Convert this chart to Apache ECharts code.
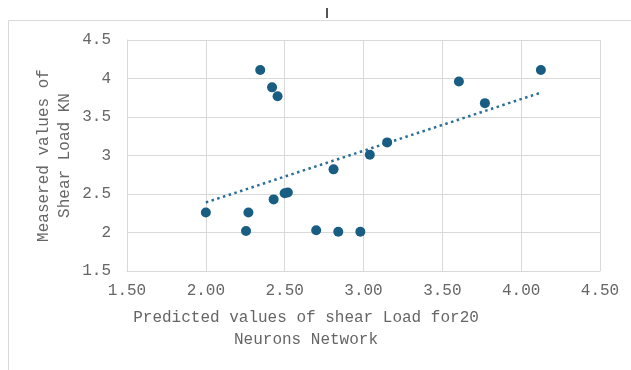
<!DOCTYPE html>
<html>
<head>
<meta charset="utf-8">
<script src="https://cdn.jsdelivr.net/npm/echarts@6/dist/echarts.min.js"></script>
<style>
  html, body { margin: 0; padding: 0; background: #fff; }
  #chart { width: 631px; height: 370px; }
</style>
</head>
<body>
<div id="chart"></div>
<script>
// predicted (x) vs measured (y) shear load
var predicted = [2.00, 2.255, 2.27, 2.43, 2.50, 2.52, 2.70, 2.84, 2.98, 2.81, 3.04, 3.15, 3.605, 3.77, 4.125, 2.345, 2.42, 2.455];
var measured  = [2.26, 2.02, 2.26, 2.43, 2.51, 2.52, 2.03, 2.01, 2.01, 2.82, 3.01, 3.17, 3.96, 3.68, 4.11, 4.11, 3.885, 3.77];

var xTitle = 'Predicted values of shear Load for20\nNeurons Network';
var yTitle = 'Measered values of\nShear Load KN';

var points = predicted.map(function (x, i) { return [x, measured[i]]; });

// linear trendline (least squares)
var n = predicted.length, mx = 0, my = 0;
for (var i = 0; i < n; i++) { mx += predicted[i]; my += measured[i]; }
mx /= n; my /= n;
var sxy = 0, sxx = 0;
for (var i = 0; i < n; i++) {
    sxy += (predicted[i] - mx) * (measured[i] - my);
    sxx += (predicted[i] - mx) * (predicted[i] - mx);
}
var slope = sxy / sxx, icpt = my - slope * mx;
var xMin = Math.min.apply(null, predicted), xMax = Math.max.apply(null, predicted);
var trend = [[xMin, icpt + slope * xMin], [xMax, icpt + slope * xMax]];

var fontFam = '"Liberation Mono", "Courier New", monospace';
var textCol = '#666666';
var gridCol = '#d9d9d9';
var dotCol = '#195e82';

var myChart = echarts.init(document.getElementById('chart'));
var option = {
    animation: false,
    backgroundColor: '#fff',
    title: {
        text: xTitle,
        left: 301,
        top: 302,
        textAlign: 'center',
        textStyle: {
            fontFamily: fontFam,
            fontSize: 16,
            fontWeight: 'normal',
            color: textCol,
            lineHeight: 22
        }
    },
    graphic: [
        {
            type: 'rect',
            shape: { x: 8.5, y: 20.5, width: 700, height: 400 },
            style: { fill: 'none', stroke: gridCol, lineWidth: 1 },
            silent: true
        },
        {
            type: 'line',
            shape: { x1: 327, y1: 8, x2: 327, y2: 18 },
            style: { stroke: '#555', lineWidth: 2 },
            silent: true
        }
    ],
    grid: {
        left: 127,
        right: 31,
        top: 40,
        bottom: 99
    },
    xAxis: {
        type: 'value',
        min: 1.5,
        max: 4.5,
        interval: 0.5,
        axisLine: { show: true, lineStyle: { color: gridCol } },
        axisTick: { show: false },
        splitLine: { show: true, lineStyle: { color: gridCol, width: 1 } },
        axisLabel: {
            margin: 12,
            fontFamily: fontFam,
            fontSize: 16,
            color: textCol,
            formatter: function (v) { return v.toFixed(2); }
        }
    },
    yAxis: {
        type: 'value',
        min: 1.5,
        max: 4.5,
        interval: 0.5,
        name: yTitle,
        nameLocation: 'middle',
        nameGap: 52,
        nameMoveOverlap: false,
        nameRotate: 90,
        nameTextStyle: {
            fontFamily: fontFam,
            fontSize: 16,
            color: textCol,
            lineHeight: 21
        },
        axisLine: { show: true, lineStyle: { color: gridCol } },
        axisTick: { show: false },
        splitLine: { show: true, lineStyle: { color: gridCol, width: 1 } },
        axisLabel: {
            margin: 16,
            fontFamily: fontFam,
            fontSize: 16,
            color: textCol
        }
    },
    series: [
        {
            type: 'line',
            data: trend,
            symbol: 'none',
            lineStyle: { color: '#2a6f96', width: 2.5, type: [2.5, 3.5] },
            z: 1
        },
        {
            type: 'scatter',
            data: points,
            symbolSize: 10,
            itemStyle: { color: dotCol, opacity: 1 },
            z: 2
        }
    ]
};
myChart.setOption(option);
</script>
</body>
</html>
